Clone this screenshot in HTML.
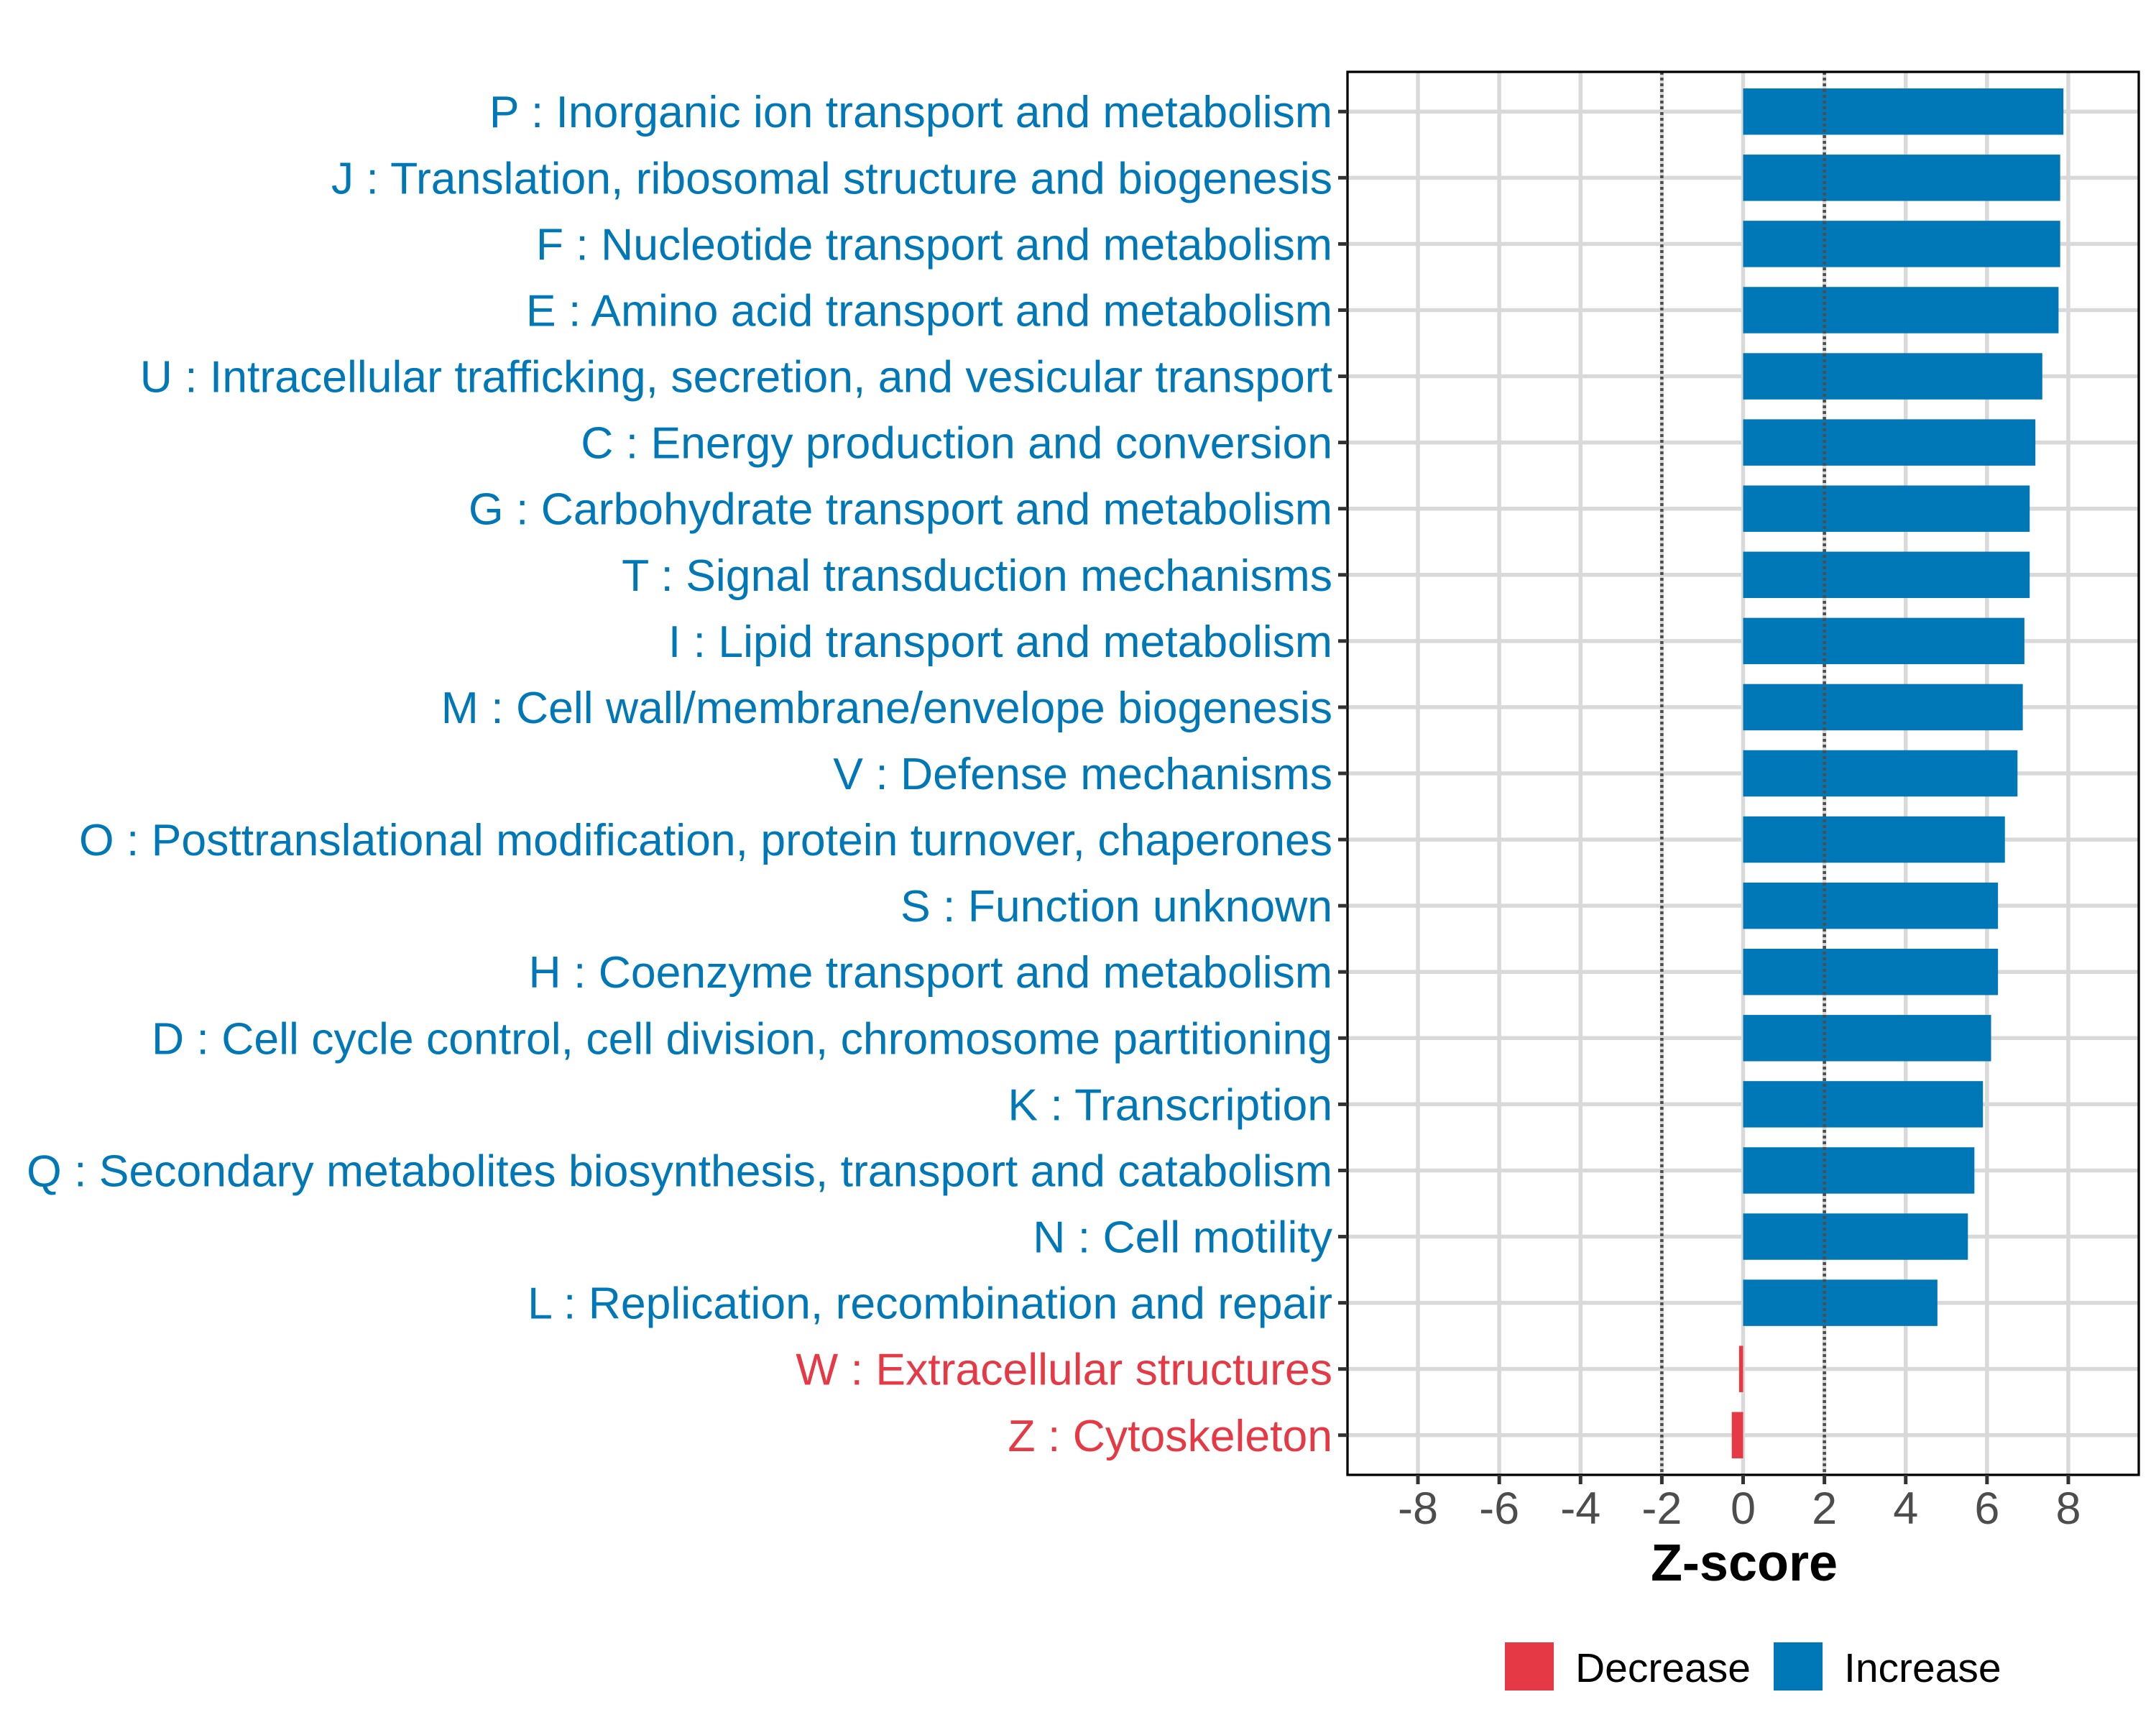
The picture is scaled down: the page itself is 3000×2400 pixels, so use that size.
<!DOCTYPE html>
<html><head><meta charset="utf-8"><style>
html,body{margin:0;padding:0;background:#fff;}
svg{display:block;font-family:"Liberation Sans",Arial,sans-serif;}
</style></head><body>
<svg id="chart" width="3000" height="2400" viewBox="0 0 3000 2400" xmlns="http://www.w3.org/2000/svg">
<rect x="0" y="0" width="3000" height="2400" fill="#fff"/>
<g id="grid"></g>
<g id="bars"></g>
<g id="refs"></g>
<rect x="1875" y="100" width="1101" height="1952" fill="none" stroke="#000" stroke-width="3.3"/>
<g id="yaxis"></g>
<g id="xaxis"></g>
<text x="2427" y="2199" text-anchor="middle" font-size="72" font-weight="bold" fill="#000">Z-score</text>
<g>
<rect x="2094" y="2285" width="68" height="67" fill="#E63946"/>
<text x="2192" y="2340" font-size="57" fill="#000">Decrease</text>
<rect x="2468" y="2285" width="68" height="67" fill="#0077B6"/>
<text x="2566" y="2340" font-size="57" fill="#000">Increase</text>
</g>
</svg>
<script>
const categories = [
"P : Inorganic ion transport and metabolism",
"J : Translation, ribosomal structure and biogenesis",
"F : Nucleotide transport and metabolism",
"E : Amino acid transport and metabolism",
"U : Intracellular trafficking, secretion, and vesicular transport",
"C : Energy production and conversion",
"G : Carbohydrate transport and metabolism",
"T : Signal transduction mechanisms",
"I : Lipid transport and metabolism",
"M : Cell wall/membrane/envelope biogenesis",
"V : Defense mechanisms",
"O : Posttranslational modification, protein turnover, chaperones",
"S : Function unknown",
"H : Coenzyme transport and metabolism",
"D : Cell cycle control, cell division, chromosome partitioning",
"K : Transcription",
"Q : Secondary metabolites biosynthesis, transport and catabolism",
"N : Cell motility",
"L : Replication, recombination and repair",
"W : Extracellular structures",
"Z : Cytoskeleton"
];
const zscores = [7.88, 7.80, 7.80, 7.76, 7.36, 7.19, 7.05, 7.05, 6.92, 6.88, 6.75, 6.44, 6.27, 6.27, 6.10, 5.90, 5.69, 5.53, 4.78, -0.10, -0.28];
const xTicks = [-8, -6, -4, -2, 0, 2, 4, 6, 8];
const refLines = [-2, 2];

const NS = "http://www.w3.org/2000/svg";
const panelL = 1875, panelR = 2976, panelT = 100, panelB = 2052;
const x0 = 2425.5, unit = 56.56;
function xs(v){ return x0 + v*unit; }
const rowStep = (panelB - panelT) / (categories.length - 1 + 1.2);
function ys(i){ return panelT + rowStep*0.6 + i*rowStep; }
const barH = rowStep*0.7;
const BLUE = "#0077B6", RED = "#E63946";
function mk(tag, attrs, parent){
  const e = document.createElementNS(NS, tag);
  for (const k in attrs) e.setAttribute(k, attrs[k]);
  parent.appendChild(e);
  return e;
}
const grid = document.getElementById("grid");
const bars = document.getElementById("bars");
const refs = document.getElementById("refs");
const yaxis = document.getElementById("yaxis");
const xaxis = document.getElementById("xaxis");

xTicks.forEach(t => {
  const g = mk("line", {x1: xs(t), x2: xs(t), y1: panelT, y2: panelB, stroke: "#d9d9d9", "stroke-width": 5.5}, grid);
  
  
  const tk = mk("line", {x1: xs(t), x2: xs(t), y1: panelB, y2: panelB+13, stroke: "#333", "stroke-width": 5}, xaxis);
  
  
  const lb = mk("text", {x: xs(t), y: 2120, "text-anchor": "middle", "font-size": 63, fill: "#4d4d4d"}, xaxis);
  lb.textContent = String(t);
  
  
});
categories.forEach((c, i) => {
  const y = ys(i);
  const g = mk("line", {x1: panelL, x2: panelR, y1: y, y2: y, stroke: "#d9d9d9", "stroke-width": 5.5}, grid);
  
  
  const v = zscores[i];
  const col = v < 0 ? RED : BLUE;
  const bx = Math.min(xs(0), xs(v)), bw = Math.abs(xs(v) - xs(0));
  const b = mk("rect", {x: bx, y: y - barH/2, width: bw, height: barH, fill: col}, bars);
  
  
  const tk = mk("line", {x1: panelL-13, x2: panelL, y1: y, y2: y, stroke: "#333", "stroke-width": 5}, yaxis);
  
  
  const lb = mk("text", {x: 1854, y: y + 22, "text-anchor": "end", "font-size": 62.5, fill: col}, yaxis);
  lb.textContent = c;
  
  
});
refLines.forEach(r => {
  const l = mk("line", {x1: xs(r), x2: xs(r), y1: panelT, y2: panelB, stroke: "#4d4d4d", "stroke-width": 4.5, "stroke-dasharray": "4,4"}, refs);
  
  
});
</script>
</body></html>
